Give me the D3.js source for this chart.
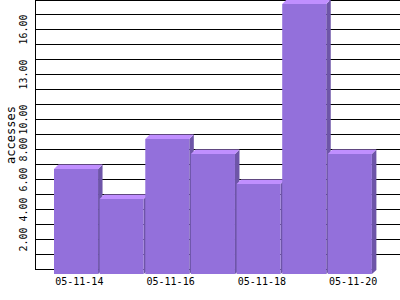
<!DOCTYPE html>
<html><head><meta charset="utf-8">
<script src="https://cdn.jsdelivr.net/npm/d3@7"></script>
<style>html,body{margin:0;padding:0;background:#fff;}svg{display:block;}</style>
</head><body>
<script>
const dates = ["05-11-14","05-11-15","05-11-16","05-11-17","05-11-18","05-11-19","05-11-20"];
const accesses = [7,5,9,8,6,18,8];
const yTickValues = [2,4,6,8,10,13,16];
const xLabelDates = ["05-11-14","05-11-16","05-11-18","05-11-20"];
const yTitle = "accesses";

const W = 400, H = 300;
const FONT = "DejaVu Sans Mono, monospace";
const svg = d3.select("body").append("svg").attr("width", W).attr("height", H);
svg.append("rect").attr("width", W).attr("height", H).attr("fill", "#fff");

const x = d3.scaleBand().domain(dates).range([54, 373.5]).padding(0);
const y = d3.scaleLinear().domain([0, 18]).range([269.5, -0.5]);
const dx = 4.5, dy = 4.5;
const fw = x.bandwidth() - 1.6;

// gridlines (back plane)
const grid = d3.range(1, 18);
svg.append("g").attr("shape-rendering", "crispEdges").selectAll("line").data(grid).join("line")
  .attr("x1", 36).attr("x2", W)
  .attr("y1", d => y(d)).attr("y2", d => y(d))
  .attr("stroke", "#000").attr("stroke-width", 1);
const frame = svg.append("g").attr("shape-rendering", "crispEdges");
frame.append("line").attr("x1", 36).attr("x2", W).attr("y1", 0.5).attr("y2", 0.5)
  .attr("stroke", "#000");
frame.append("line").attr("x1", 35.5).attr("x2", 35.5).attr("y1", 0).attr("y2", y(0))
  .attr("stroke", "#000");
frame.append("line").attr("x1", 35).attr("x2", 374).attr("y1", y(0)).attr("y2", y(0))
  .attr("stroke", "#000");

const data = dates.map((d, i) => ({d, v: accesses[i]}));
const bars = svg.append("g").selectAll("g").data(data).join("g");
bars.append("path").attr("fill", "#6e55a8")
  .attr("d", b => {
    const x0 = x(b.d) + fw, yt = y(b.v);
    return `M${x0},${yt+dy}L${x0+dx},${yt}L${x0+dx},${y(0)+0.5}L${x0},${y(0)+dy}Z`;
  });
bars.append("path").attr("fill", "#c08fff")
  .attr("d", b => {
    const x0 = x(b.d), yt = y(b.v);
    return `M${x0},${yt+dy}L${x0+dx},${yt}L${x0+fw+dx},${yt}L${x0+fw},${yt+dy}Z`;
  });
bars.append("rect").attr("fill", "#9370db")
  .attr("x", b => x(b.d)).attr("width", fw)
  .attr("y", b => y(b.v) + dy)
  .attr("height", b => y(0) + dy - (y(b.v) + dy));

svg.append("g").selectAll("text").data(xLabelDates).join("text")
  .attr("x", d => x(d) + x.bandwidth() / 2 + 2.5)
  .attr("y", 285)
  .attr("text-anchor", "middle")
  .attr("font-family", FONT)
  .attr("font-size", 10)
  .attr("fill", "#000")
  .text(d => d);

svg.append("g").selectAll("text").data(yTickValues).join("text")
  .attr("transform", d => `translate(23,${y(d)}) rotate(-90)`)
  .attr("text-anchor", "middle")
  .attr("dominant-baseline", "central")
  .attr("font-family", FONT)
  .attr("font-size", 10)
  .attr("fill", "#000")
  .text(d => d3.format(".2f")(d));

svg.append("text")
  .attr("transform", "translate(11,135) rotate(-90)")
  .attr("text-anchor", "middle")
  .attr("dominant-baseline", "central")
  .attr("font-family", FONT)
  .attr("font-size", 12)
  .attr("fill", "#000")
  .text(yTitle);
</script>
</body></html>
